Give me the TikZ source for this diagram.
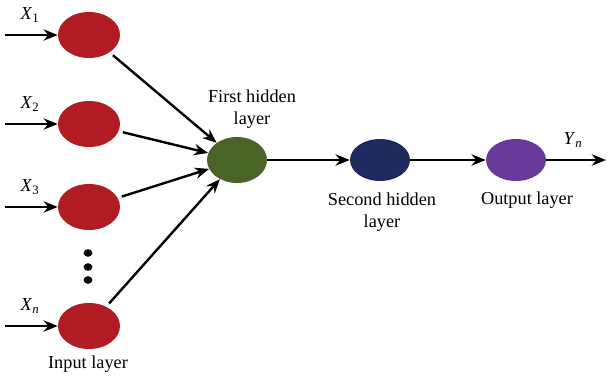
\documentclass[tikz,border=0pt]{standalone}
\usepackage{fontspec}
\setmainfont{Liberation Serif}
\usepackage{tikz}
\usetikzlibrary{positioning, arrows.meta, shapes.geometric}
\definecolor{xred}{HTML}{B01C22}
\definecolor{xgreen}{HTML}{4A6428}
\definecolor{xnavy}{HTML}{1E2A5E}
\definecolor{xpurple}{HTML}{6A3A9A}
\tikzset{
	neuron/.style={ellipse, minimum width=1.55cm, minimum height=1.15cm, inner sep=0pt},
	link/.style={line width=1.7pt, -{Stealth[length=10pt, width=8pt]}},
	caption/.style={font=\fontsize{13}{16}\selectfont, align=center},
}
\begin{document}
\begin{tikzpicture}[every node/.style={font=\fontsize{13}{16}\selectfont}]
		\useasboundingbox (0,0) rectangle (15.2,9.4);
		\foreach \name/\y/\sub in {1/8.525/1, 2/6.3/2, 3/4.225/3, n/1.25/\textit{n}}{
			\node[neuron, fill=xred] (in\name) at (2.225,\y) {};
			\coordinate (src\name) at (0.125,\y);
			\draw[link] (src\name) -- (in\name);
			\node at (0.75,{\y+0.5}) {\textit{X}\textsubscript{\sub}};
		}
		\foreach \y in {3.075, 2.725, 2.4}{
			\fill[black] (2.2,\y) ellipse (0.11 and 0.095);
		}
		\node[neuron, fill=xgreen, minimum width=1.5cm, minimum height=1.15cm] (h1) at (5.925,5.4) {};
		\node[neuron, fill=xnavy, minimum width=1.5cm, minimum height=1.05cm] (h2) at (9.5,5.4) {};
		\node[neuron, fill=xpurple, minimum width=1.5cm, minimum height=1.05cm] (out) at (12.9,5.4) {};
		\coordinate (yend) at (15.15,5.4);
		\foreach \name in {1, 2, 3, n}{
			\draw[link, shorten <=3pt] (in\name) -- (h1);
		}
		\draw[link] (h1) -- (h2);
		\draw[link] (h2) -- (out);
		\draw[link] (out) -- (yend);
		\node[caption] at (6.3,6.675) {First hidden\\layer};
		\node[caption] at (9.55,4.1) {Second hidden\\layer};
		\node[caption] at (13.175,4.4) {Output layer};
		\node[caption] at (2.2,0.3) {Input layer};
		\node at (14.325,5.9) {\textit{Y}\textsubscript{\textit{n}}};
	\end{tikzpicture}
\end{document}
